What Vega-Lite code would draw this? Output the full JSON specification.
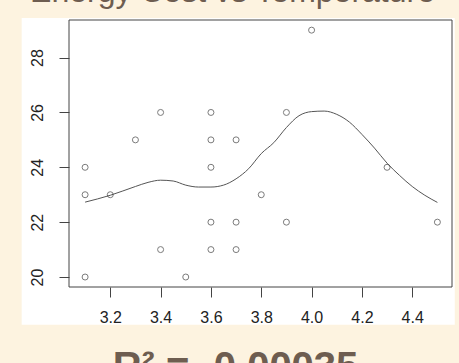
{
  "$schema": "https://vega.github.io/schema/vega-lite/v6.json",
  "width": 383,
  "height": 267,
  "autosize": "none",
  "padding": {"left": 69, "top": 20, "right": 7, "bottom": 76},
  "background": "#FDF3E0",
  "title": {
    "text": "Energy Cost vs Temperature",
    "font": "Liberation Sans",
    "fontSize": 32,
    "fontWeight": "normal",
    "color": "#6E5D50",
    "anchor": "middle",
    "frame": "group",
    "baseline": "alphabetic",
    "offset": 0,
    "dx": -28,
    "dy": 16
  },
  "config": {
    "view": {"stroke": null, "fill": "white"},
    "axis": {"grid": false, "domain": false}
  },
  "datasets": {
    "points": [
      {"temp": 3.1, "cost": 24}, {"temp": 3.1, "cost": 23}, {"temp": 3.1, "cost": 20},
      {"temp": 3.2, "cost": 23}, {"temp": 3.3, "cost": 25},
      {"temp": 3.4, "cost": 26}, {"temp": 3.4, "cost": 21},
      {"temp": 3.5, "cost": 20},
      {"temp": 3.6, "cost": 26}, {"temp": 3.6, "cost": 25}, {"temp": 3.6, "cost": 24}, {"temp": 3.6, "cost": 22}, {"temp": 3.6, "cost": 21},
      {"temp": 3.7, "cost": 25}, {"temp": 3.7, "cost": 22}, {"temp": 3.7, "cost": 21},
      {"temp": 3.8, "cost": 23},
      {"temp": 3.9, "cost": 26}, {"temp": 3.9, "cost": 22},
      {"temp": 4.0, "cost": 29},
      {"temp": 4.3, "cost": 24},
      {"temp": 4.5, "cost": 22}
    ],
    "curve": [
      {"temp": 3.1, "fit": 22.73}, {"temp": 3.2, "fit": 22.98}, {"temp": 3.3, "fit": 23.3},
      {"temp": 3.35, "fit": 23.45}, {"temp": 3.4, "fit": 23.53}, {"temp": 3.45, "fit": 23.5},
      {"temp": 3.5, "fit": 23.35}, {"temp": 3.55, "fit": 23.28}, {"temp": 3.6, "fit": 23.28},
      {"temp": 3.65, "fit": 23.35}, {"temp": 3.7, "fit": 23.58}, {"temp": 3.75, "fit": 23.95},
      {"temp": 3.8, "fit": 24.5}, {"temp": 3.85, "fit": 24.9}, {"temp": 3.9, "fit": 25.45},
      {"temp": 3.95, "fit": 25.88}, {"temp": 4.0, "fit": 26.03}, {"temp": 4.05, "fit": 26.05},
      {"temp": 4.1, "fit": 25.93}, {"temp": 4.15, "fit": 25.65}, {"temp": 4.2, "fit": 25.2},
      {"temp": 4.25, "fit": 24.7}, {"temp": 4.3, "fit": 24.15}, {"temp": 4.35, "fit": 23.7},
      {"temp": 4.4, "fit": 23.3}, {"temp": 4.45, "fit": 22.98}, {"temp": 4.5, "fit": 22.72}
    ]
  },
  "layer": [
    {
      "data": {"values": [{}]},
      "mark": {"type": "rect", "color": "white", "clip": false},
      "encoding": {
        "x": {"datum": 2.848, "type": "quantitative", "scale": {"domain": [3.036, 4.558], "nice": false, "zero": false}},
        "x2": {"datum": 4.569},
        "y": {"datum": 18.262, "type": "quantitative", "scale": {"domain": [19.636, 29.37], "nice": false, "zero": false}},
        "y2": {"datum": 29.443}
      }
    },
    {
      "data": {"values": [{}]},
      "mark": {"type": "rect", "fill": null, "fillOpacity": 0, "stroke": "#444444", "strokeWidth": 1, "clip": false},
      "encoding": {
        "x": {"datum": 3.036, "type": "quantitative"},
        "x2": {"datum": 4.558},
        "y": {"datum": 19.636, "type": "quantitative"},
        "y2": {"datum": 29.37}
      }
    },
    {
      "data": {"name": "curve"},
      "mark": {"type": "line", "color": "#555555", "strokeWidth": 1, "interpolate": "monotone"},
      "encoding": {
        "x": {"field": "temp", "type": "quantitative"},
        "y": {"field": "fit", "type": "quantitative"}
      }
    },
    {
      "data": {"name": "points"},
      "mark": {"type": "point", "shape": "circle", "filled": false, "color": "#444444", "strokeWidth": 1, "size": 36},
      "encoding": {
        "x": {
          "field": "temp",
          "type": "quantitative",
          "axis": {
            "zindex": 1,
            "values": [3.2, 3.4, 3.6, 3.8, 4.0, 4.2, 4.4],
            "format": ".1f",
            "labelFont": "Liberation Sans",
            "labelFontSize": 16,
            "labelColor": "#222222",
            "labelBaseline": "alphabetic",
            "labelPadding": 25,
            "tickSize": 10,
            "tickColor": "#444444",
            "title": "R² = -0.00035",
            "titleFont": "Liberation Sans",
            "titleFontSize": 40,
            "titleFontWeight": "bold",
            "titleColor": "#6E5D50",
            "titleBaseline": "alphabetic",
            "titleAlign": "center",
            "titleX": 166,
            "titleY": 92
          }
        },
        "y": {
          "field": "cost",
          "type": "quantitative",
          "axis": {
            "zindex": 1,
            "values": [20, 22, 24, 26, 28],
            "labelFont": "Liberation Sans",
            "labelFontSize": 16,
            "labelColor": "#222222",
            "labelAngle": 270,
            "labelAlign": "center",
            "labelBaseline": "alphabetic",
            "labelPadding": 17,
            "tickSize": 10,
            "tickColor": "#444444",
            "title": null
          }
        }
      }
    }
  ]
}
